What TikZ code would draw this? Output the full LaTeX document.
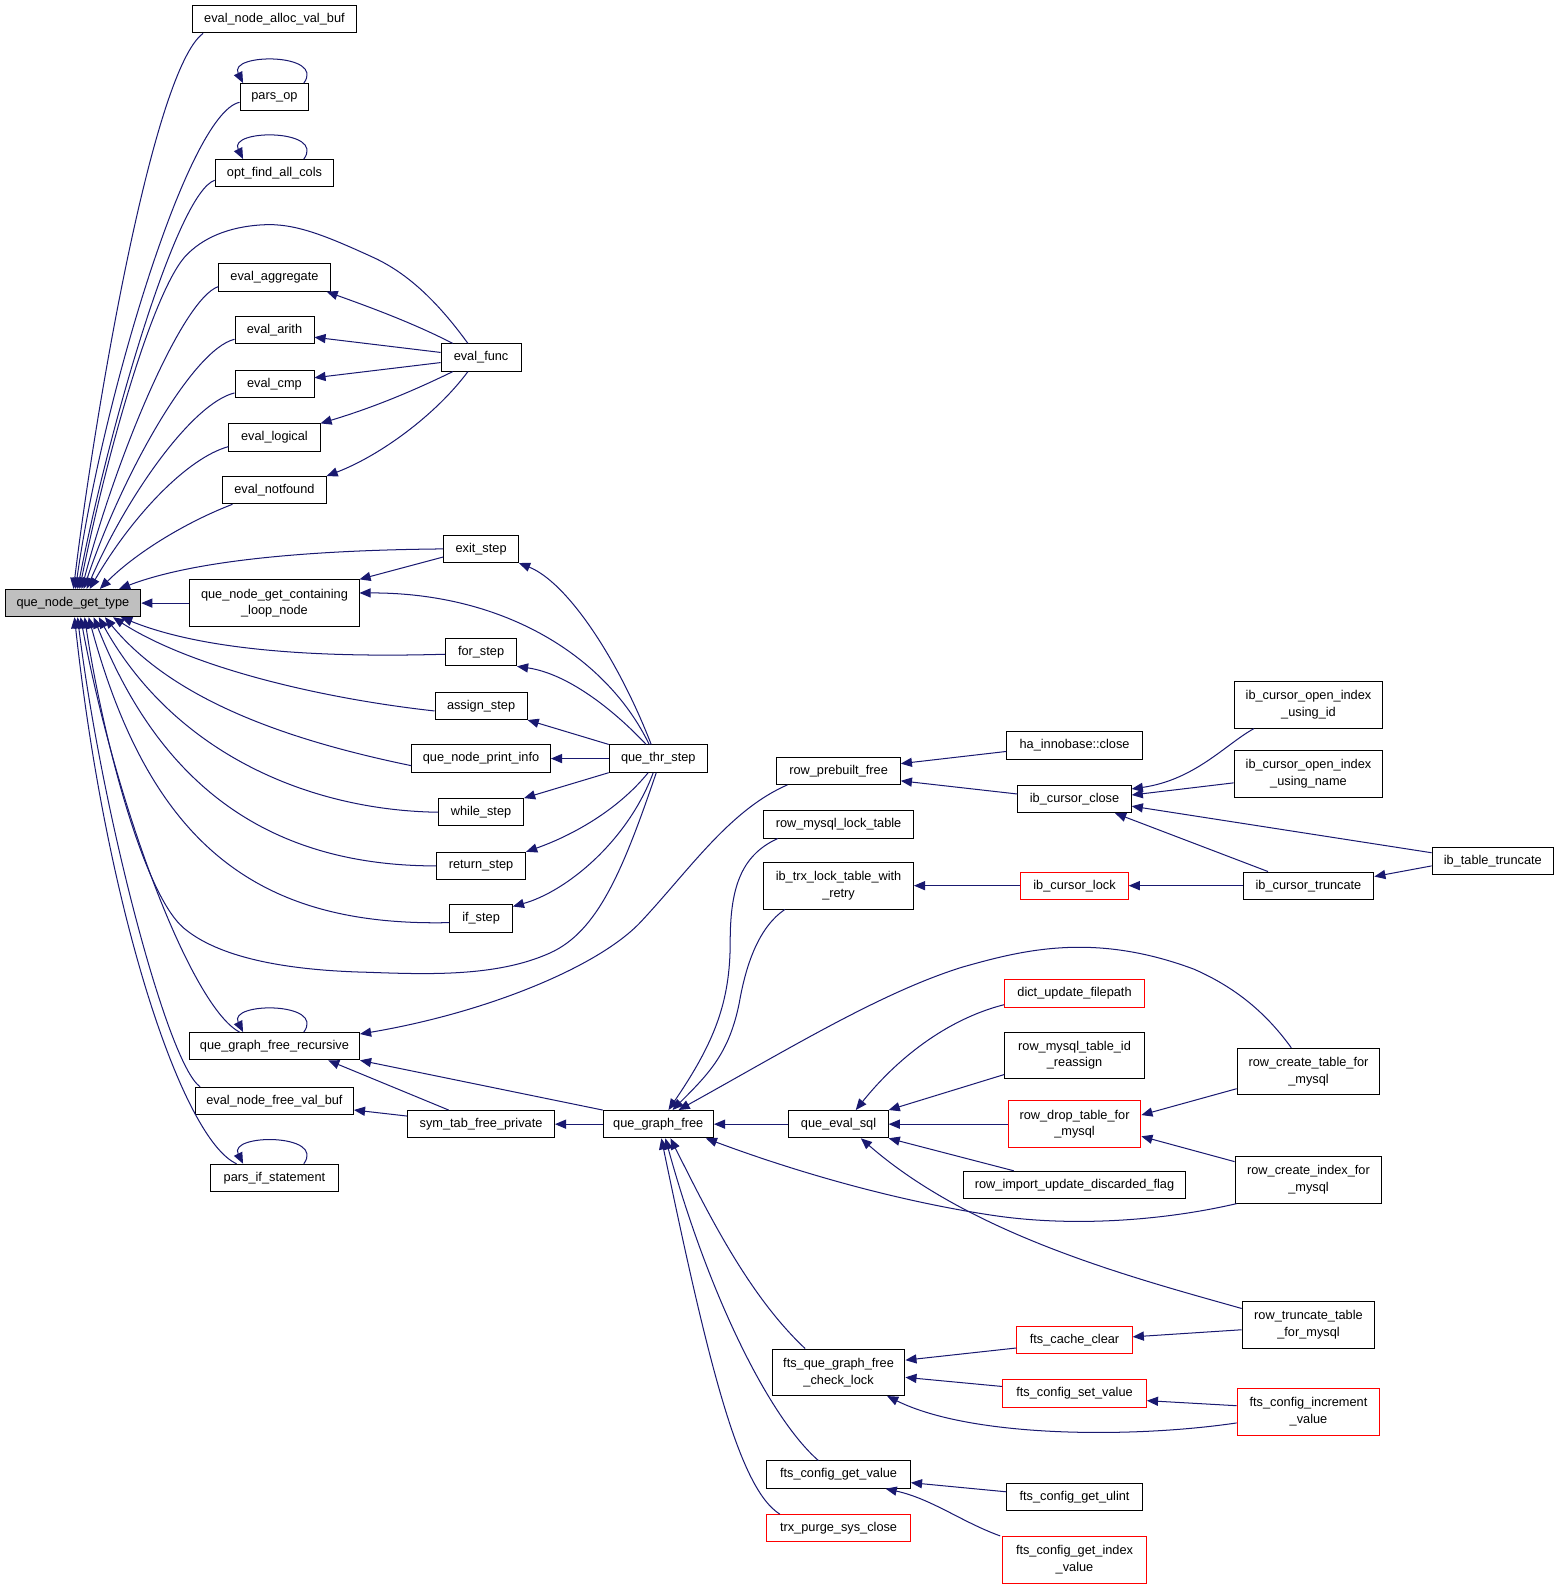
\documentclass[tikz,border=0pt]{standalone}
\usepackage{fontspec}
\setmainfont{Liberation Sans}
\usetikzlibrary{arrows.meta}
\definecolor{edgecol}{HTML}{191970}
\definecolor{boxred}{HTML}{FF0000}
\definecolor{boxgray}{HTML}{BFBFBF}
\begin{document}
\begin{tikzpicture}[x=1pt,y=-1pt,
  box/.style={draw=black, line width=0.9pt, fill=white, inner sep=0pt, minimum height=27pt, align=center, font=\fontsize{12.6pt}{16.5pt}\selectfont},
  tall/.style={minimum height=46pt},
  redbox/.style={draw=boxred},
  edge/.style={draw=edgecol, line width=1pt, -{Triangle[length=11pt,width=9pt]}},
]
\useasboundingbox (0,0) rectangle (1540,1568);

% column 1
\node[box,minimum width=134pt,fill=boxgray] (qngt) at (72,595.5) {que\_node\_get\_type};
% column 2
\node[box,minimum width=162pt] (ealloc) at (271,19) {eval\_node\_alloc\_val\_buf};
\node[box,minimum width=68pt] (parsop) at (271,96) {pars\_op};
\node[box,minimum width=117pt] (optfind) at (271,171) {opt\_find\_all\_cols};
\node[box,minimum width=110pt] (eagg) at (271,274) {eval\_aggregate};
\node[box,minimum width=78pt] (earith) at (271,326) {eval\_arith};
\node[box,minimum width=78pt] (ecmp) at (271,379) {eval\_cmp};
\node[box,minimum width=90pt] (elog) at (271,432) {eval\_logical};
\node[box,minimum width=102pt] (enot) at (271,484) {eval\_notfound};
\node[box,tall,minimum width=167pt] (qngcln) at (271,595.5) {que\_node\_get\_containing\\\_loop\_node};
\node[box,minimum width=168pt] (qgfr) at (271,1033) {que\_graph\_free\_recursive};
\node[box,minimum width=156pt] (efree) at (271,1087) {eval\_node\_free\_val\_buf};
\node[box,minimum width=126pt] (parsif) at (271,1163) {pars\_if\_statement};
% column 3
\node[box,minimum width=79pt] (efunc) at (475,353) {eval\_func};
\node[box,minimum width=74pt] (exit) at (475,542) {exit\_step};
\node[box,minimum width=70pt] (for) at (475,644) {for\_step};
\node[box,minimum width=91pt] (assign) at (475,697) {assign\_step};
\node[box,minimum width=137pt] (qnpi) at (475,749) {que\_node\_print\_info};
\node[box,minimum width=84pt] (while) at (475,802) {while\_step};
\node[box,minimum width=88pt] (return) at (475,855) {return\_step};
\node[box,minimum width=62pt] (ifs) at (475,907) {if\_step};
\node[box,minimum width=145pt] (symtab) at (475,1110) {sym\_tab\_free\_private};
% column 4
\node[box,minimum width=97pt] (qts) at (650,749) {que\_thr\_step};
\node[box,minimum width=109pt] (qgf) at (650,1110) {que\_graph\_free};
% column 5
\node[box,minimum width=122pt] (rpf) at (828,761) {row\_prebuilt\_free};
\node[box,minimum width=148pt] (rmlt) at (828,814) {row\_mysql\_lock\_table};
\node[box,tall,minimum width=148pt] (ibtrx) at (828,874.5) {ib\_trx\_lock\_table\_with\\\_retry};
\node[box,minimum width=98pt] (qes) at (828,1110) {que\_eval\_sql};
\node[box,tall,minimum width=131pt] (ftsq) at (828,1355) {fts\_que\_graph\_free\\\_check\_lock};
\node[box,minimum width=142pt] (fcgv) at (828,1456) {fts\_config\_get\_value};
\node[box,redbox,minimum width=142pt] (tpsc) at (828,1509) {trx\_purge\_sys\_close};
% column 6
\node[box,minimum width=134pt] (hac) at (1061,736) {ha\_innobase::close};
\node[box,minimum width=112pt] (icc) at (1061,789) {ib\_cursor\_close};
\node[box,redbox,minimum width=106pt] (icl) at (1061,874.5) {ib\_cursor\_lock};
\node[box,redbox,minimum width=138pt] (duf) at (1061,981) {dict\_update\_filepath};
\node[box,tall,minimum width=138pt] (rmtir) at (1061,1042) {row\_mysql\_table\_id\\\_reassign};
\node[box,tall,redbox,minimum width=131pt] (rdtm) at (1061,1110) {row\_drop\_table\_for\\\_mysql};
\node[box,minimum width=219pt] (riudf) at (1061,1170) {row\_import\_update\_discarded\_flag};
\node[box,redbox,minimum width=114pt] (fcc) at (1061,1323) {fts\_cache\_clear};
\node[box,redbox,minimum width=142pt] (fcsv) at (1061,1376) {fts\_config\_set\_value};
\node[box,minimum width=134pt] (fcgu) at (1061,1478) {fts\_config\_get\_ulint};
\node[box,tall,redbox,minimum width=142pt] (fcgiv) at (1061,1540) {fts\_config\_get\_index\\\_value};
% column 7
\node[box,tall,minimum width=147pt] (icoiid) at (1292,696) {ib\_cursor\_open\_index\\\_using\_id};
\node[box,tall,minimum width=147pt] (icoin) at (1292,764) {ib\_cursor\_open\_index\\\_using\_name};
\node[box,minimum width=129pt] (ict) at (1292,874.5) {ib\_cursor\_truncate};
\node[box,tall,minimum width=141pt] (rctm) at (1292,1058) {row\_create\_table\_for\\\_mysql};
\node[box,tall,minimum width=145pt] (rcim) at (1292,1165) {row\_create\_index\_for\\\_mysql};
\node[box,tall,minimum width=131pt] (rttm) at (1292,1308) {row\_truncate\_table\\\_for\_mysql};
\node[box,tall,redbox,minimum width=141pt] (fciv) at (1292,1394) {fts\_config\_increment\\\_value};
% column 8
\node[box,minimum width=120pt] (itt) at (1474,850) {ib\_table\_truncate};

% ---- edges into que_node_get_type (top)
\draw[edge] ([xshift=11pt]ealloc.south west) .. controls (150,70) and (92,420) .. ([xshift=68pt]qngt.north west);
\draw[edge] ([yshift=-5pt]parsop.west) .. controls (185,112) and (100,400) .. ([xshift=70pt]qngt.north west);
\draw[edge] ([yshift=-7pt]optfind.west) .. controls (175,190) and (108,420) .. ([xshift=72pt]qngt.north west);
\draw[edge] ([xshift=-13pt]efunc.north) .. controls (430,295) and (400,268) .. (366,253)
   .. controls (320,232) and (290,220) .. (259,222)
   .. controls (225,224) and (200,235) .. (183,253)
   .. controls (150,290) and (105,450) .. ([xshift=74pt]qngt.north west);
\draw[edge] ([yshift=-9pt]eagg.west) .. controls (180,295) and (115,450) .. ([xshift=76pt]qngt.north west);
\draw[edge] ([yshift=-9pt]earith.west) .. controls (190,345) and (120,470) .. ([xshift=78pt]qngt.north west);
\draw[edge] ([yshift=-9pt]ecmp.west) .. controls (190,398) and (125,490) .. ([xshift=81pt]qngt.north west);
\draw[edge] ([yshift=-9pt]elog.west) .. controls (185,452) and (130,510) .. ([xshift=84pt]qngt.north west);
\draw[edge] ([xshift=10pt]enot.south west) .. controls (185,515) and (135,545) .. ([xshift=94pt]qngt.north west);
\draw[edge] (exit.west) .. controls (330,543) and (200,550) .. ([xshift=113pt]qngt.north west);
\draw[edge] (qngcln.west) -- (qngt.east);
% ---- edges into que_node_get_type (bottom)
\draw[edge] ([yshift=-2pt]for.west) .. controls (300,650) and (195,640) .. ([xshift=115pt]qngt.south west);
\draw[edge] ([yshift=-5pt]assign.west) .. controls (320,690) and (190,660) .. ([xshift=107pt]qngt.south west);
\draw[edge] ([yshift=-7pt]qnpi.west) .. controls (280,730) and (170,690) .. ([xshift=99pt]qngt.south west);
\draw[edge] (while.west) .. controls (300,800) and (170,740) .. ([xshift=93pt]qngt.south west);
\draw[edge] (return.west) .. controls (270,855) and (160,780) .. ([xshift=88pt]qngt.south west);
\draw[edge] ([yshift=-4pt]ifs.west) .. controls (260,915) and (150,840) .. ([xshift=83pt]qngt.south west);
\draw[edge] ([xshift=-2pt]qts.south) .. controls (615,860) and (590,920) .. (543,941)
   .. controls (490,965) and (420,962) .. (362,960)
   .. controls (280,958) and (215,945) .. (181,916)
   .. controls (140,880) and (100,720) .. ([xshift=79pt]qngt.south west);
\draw[edge] ([xshift=50pt]qgfr.north west) .. controls (190,995) and (115,800) .. ([xshift=75pt]qngt.south west);
\draw[edge] ([xshift=5pt]efree.north west) .. controls (165,1050) and (100,800) .. ([xshift=72pt]qngt.south west);
\draw[edge] ([xshift=26pt]parsif.north west) .. controls (180,1125) and (105,900) .. ([xshift=69pt]qngt.south west);

% ---- self loops
\draw[edge] ([xshift=29pt]parsop.north) .. controls +(22,-30) and +(-15,-30) .. ([xshift=-31pt]parsop.north);
\draw[edge] ([xshift=29pt]optfind.north) .. controls +(22,-30) and +(-15,-30) .. ([xshift=-31pt]optfind.north);
\draw[edge] ([xshift=29pt]qgfr.north) .. controls +(22,-30) and +(-15,-30) .. ([xshift=-31pt]qgfr.north);
\draw[edge] ([xshift=29pt]parsif.north) .. controls +(22,-30) and +(-15,-30) .. ([xshift=-31pt]parsif.north);

% ---- eval_func
\draw[edge] ([xshift=-28pt]efunc.north) .. controls (410,320) and (370,305) .. ([xshift=-4pt]eagg.south east);
\draw[edge] ([yshift=5pt]efunc.west) -- ([yshift=-7pt]earith.east);
\draw[edge] ([yshift=-5pt]efunc.west) -- ([yshift=6pt]ecmp.east);
\draw[edge] ([xshift=-28pt]efunc.south) .. controls (410,385) and (370,402) .. (elog.north east);
\draw[edge] ([xshift=-13pt]efunc.south) .. controls (430,410) and (375,450) .. (enot.north east);

% ---- exit_step / que_thr_step
\draw[edge] ([yshift=-8pt]exit.west) -- (qngcln.north east);
\draw[edge] ([xshift=-7pt]qts.north) .. controls (610,650) and (560,575) .. (exit.south east);
\draw[edge] ([xshift=-9pt]qts.north) .. controls (600,650) and (500,585) .. ([yshift=10pt]qngcln.east);
\draw[edge] ([xshift=-12pt]qts.north) .. controls (605,700) and (560,665) .. (for.south east);
\draw[edge] (qts.north west) -- (assign.south east);
\draw[edge] (qts.west) -- (qnpi.east);
\draw[edge] (qts.south west) -- (while.north east);
\draw[edge] ([xshift=-10pt]qts.south) .. controls (610,800) and (565,825) .. (return.north east);
\draw[edge] ([xshift=-5pt]qts.south) .. controls (620,830) and (560,880) .. ([yshift=-2pt]ifs.north east);

% ---- que_graph_free area
\draw[edge] (qgf.north west) -- (qgfr.south east);
\draw[edge] (qgf.west) -- (symtab.east);
\draw[edge] ([xshift=-32pt]symtab.north) -- ([xshift=53pt]qgfr.south);
\draw[edge] ([yshift=8pt]symtab.west) -- ([yshift=-9pt]efree.east);
\draw[edge] ([xshift=11pt]rpf.south west) .. controls (720,800) and (680,860) .. (632,911)
   .. controls (590,955) and (480,1000) .. ([yshift=12pt]qgfr.east);
\draw[edge] ([xshift=-60pt]rmlt.south) .. controls (730,845) and (721,880) .. (721,930)
   .. controls (721,990) and (705,1030) .. ([xshift=10pt]qgf.north);
\draw[edge] ([xshift=-53pt]ibtrx.south) .. controls (750,915) and (737,950) .. (730,990)
   .. controls (720,1040) and (700,1060) .. ([xshift=14pt]qgf.north);
\draw[edge] ([xshift=-17pt]rctm.north) .. controls (1250,1000) and (1220,975) .. (1179,957)
   .. controls (1080,920) and (1010,938) .. (950,955)
   .. controls (870,980) and (780,1035) .. ([xshift=20pt]qgf.north);
\draw[edge] (qes.west) -- (qgf.east);
\draw[edge] ([xshift=2pt]rcim.south west) .. controls (1150,1205) and (1060,1212) .. (980,1200)
   .. controls (880,1185) and (780,1155) .. ([xshift=-8pt]qgf.south east);
\draw[edge] ([xshift=-33pt]ftsq.north) .. controls (740,1280) and (700,1200) .. ([xshift=12pt]qgf.south);
\draw[edge] ([xshift=-20pt]fcgv.north) .. controls (760,1400) and (700,1280) .. ([xshift=7pt]qgf.south);
\draw[edge] ([xshift=-58pt]tpsc.north) .. controls (730,1470) and (700,1350) .. ([xshift=3pt]qgf.south);

% ---- right part, upper
\draw[edge] ([yshift=-6pt]hac.west) -- ([yshift=7pt]rpf.east);
\draw[edge] ([yshift=5pt]icc.west) -- ([yshift=-10pt]rpf.east);
\draw[edge] ([xshift=20pt]icoiid.south west) .. controls (1210,735) and (1180,770) .. ([yshift=10pt]icc.east);
\draw[edge] ([yshift=-9pt]icoin.west) -- ([yshift=4pt]icc.east);
\draw[edge] ([yshift=8pt]itt.west) -- ([yshift=-7pt]icc.east);
\draw[edge] ([xshift=-40pt]ict.north) -- ([xshift=40pt]icc.south);
\draw[edge] ([yshift=-5pt]itt.west) -- ([yshift=9pt]ict.east);
\draw[edge] (ict.west) -- (icl.east);
\draw[edge] (icl.west) -- (ibtrx.east);

% ---- que_eval_sql
\draw[edge] ([yshift=-11pt]duf.west) .. controls (940,1005) and (890,1040) .. ([xshift=17pt]qes.north);
\draw[edge] ([yshift=-19pt]rmtir.west) -- (qes.north east);
\draw[edge] (rdtm.west) -- (qes.east);
\draw[edge] ([xshift=50pt]riudf.north west) -- (qes.south east);
\draw[edge] ([yshift=16pt]rttm.west) .. controls (1120,1262) and (960,1220) .. ([xshift=22pt]qes.south);
\draw[edge] ([yshift=-17pt]rctm.west) -- ([yshift=9pt]rdtm.east);
\draw[edge] ([yshift=18pt]rcim.west) -- ([yshift=-12pt]rdtm.east);

% ---- fts part
\draw[edge] ([yshift=-8pt]fcc.west) -- ([yshift=12pt]ftsq.east);
\draw[edge] ([yshift=7pt]fcsv.west) -- ([yshift=-5pt]ftsq.east);
\draw[edge] ([yshift=-11pt]fciv.west) .. controls (1120,1420) and (960,1420) .. ([xshift=-18pt]ftsq.south east);
\draw[edge] ([yshift=-5pt]rttm.west) -- ([yshift=3pt]fcc.east);
\draw[edge] ([yshift=6pt]fciv.west) -- ([yshift=-7pt]fcsv.east);
\draw[edge] ([yshift=5pt]fcgu.west) -- ([yshift=-8pt]fcgv.east);
\draw[edge] ([xshift=-2pt]fcgiv.north west) .. controls (950,1503) and (920,1480) .. ([xshift=-25pt]fcgv.south east);
\end{tikzpicture}
\end{document}
